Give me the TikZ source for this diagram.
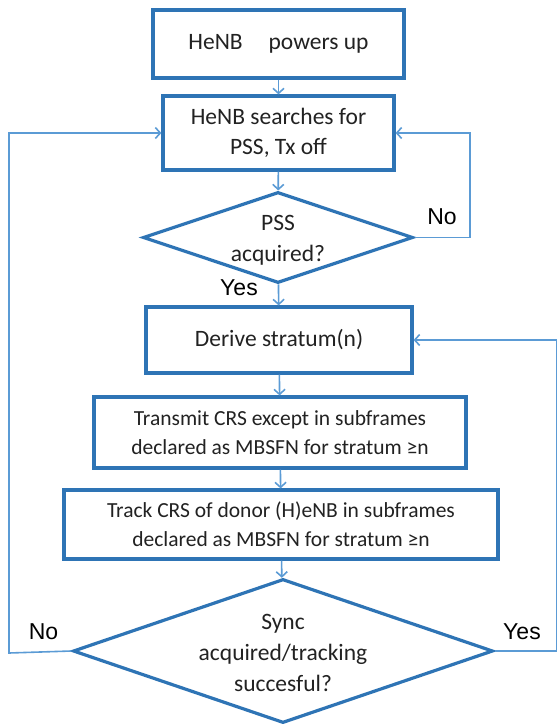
\documentclass[tikz,border=0pt]{standalone}
\usepackage{fontspec}
\setmainfont{Carlito}
\newfontfamily\labfont{Liberation Sans}
\usetikzlibrary{shapes.geometric,arrows.meta}
\definecolor{boxblue}{HTML}{2E74B5}
\definecolor{linkblue}{HTML}{5B9BD5}
\definecolor{txt}{HTML}{222222}
\tikzset{
  stepbox/.style={draw=boxblue, line width=3.2pt, fill=white, rectangle, inner sep=0pt, align=center, text=txt, font=\fontsize{23.5}{30}\selectfont},
  smallbox/.style={stepbox, font=\fontsize{21.5}{29}\selectfont},
  decide/.style={draw=boxblue, line width=3.2pt, fill=white, diamond, inner sep=0pt},
  dtext/.style={align=center, text=txt, font=\fontsize{23.5}{31}\selectfont},
  link/.style={draw=linkblue, line width=1.6pt, -{Straight Barb[length=5pt,width=11pt]}},
  lab/.style={text=black, font=\labfont\fontsize{23}{23}\selectfont, inner sep=0pt}
}
\begin{document}
\begin{tikzpicture}[x=1pt,y=-1pt]
\useasboundingbox (0,0) rectangle (558,724);
\node[stepbox, minimum width=251pt, minimum height=68pt] (b1) at (278.5,44) {HeNB\hspace{1.1em}powers up};
\node[stepbox, minimum width=231pt, minimum height=74pt] (b2) at (278.5,133) {HeNB searches for\\PSS, Tx off};
\node[decide, minimum width=270pt, minimum height=91pt] (d1) at (278,237.5) {};
\node[dtext] (d1t) at (278,240) {PSS\\acquired?};
\node[stepbox, minimum width=266pt, minimum height=66pt] (b3) at (279,340) {Derive stratum(n)};
\node[smallbox, minimum width=372pt, minimum height=71pt] (b4) at (280,432.5) {Transmit CRS except in subframes\\declared as MBSFN for stratum ≥n};
\node[smallbox, minimum width=434pt, minimum height=69pt] (b5) at (281,524.5) {Track CRS of donor (H)eNB in subframes\\declared as MBSFN for stratum ≥n};
\node[decide, minimum width=420pt, minimum height=144pt] (d2) at (283,651) {};
\node[dtext] (d2t) at (283,653) {Sync\\acquired/tracking\\succesful?};
\coordinate (lx) at (9,653);
\coordinate (rx1) at (470,237.5);
\coordinate (rx2) at (556.5,651);
\draw[link] (b1) -- (b2);
\draw[link] (b2) -- (d1);
\draw[link] (d1) -- (b3);
\draw[link] (b3) -- (b4);
\draw[link] (b4) -- (b5);
\draw[link] (b5) -- (d2);
\draw[link] (d1.east) -- (rx1) |- (b2.east);
\draw[link] (d2.west) -- (lx) |- (b2.west);
\draw[link] (d2.east) -- (rx2) |- (b3.east);
\node[lab] (no1) at (442,217) {No};
\node[lab] (yes1) at (239,288) {Yes};
\node[lab] (no2) at (43.5,631.5) {No};
\node[lab] (yes2) at (522,631.5) {Yes};
\end{tikzpicture}
\end{document}
